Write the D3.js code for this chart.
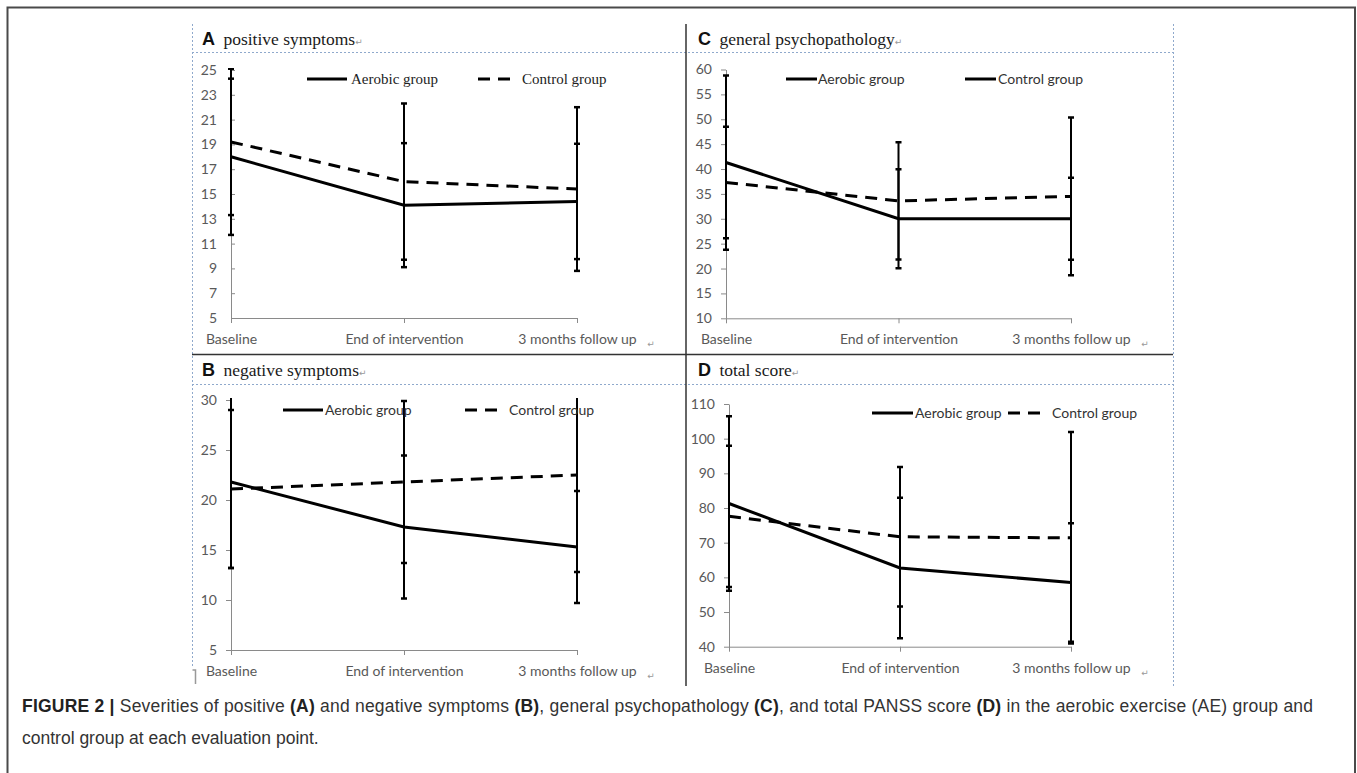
<!DOCTYPE html>
<html>
<head>
<meta charset="utf-8">
<script src="https://cdn.jsdelivr.net/npm/d3@7"></script>
<style>
    body { margin: 0; background: #fff; }
    svg { display: block; }
</style>
</head>
<body>
<svg id="fig" width="1357" height="773"></svg>
<script>
/**
 * Data.
 */
const timepoints = ['Baseline', 'End of intervention', '3 months follow up'];
const seriesNames = ['Aerobic group', 'Control group'];

// A positive symptoms
const positiveAerobic = [18.0, 14.1, 14.4],
    positiveAerobicSd = [6.3, 5.0, 4.65],
    positiveControl = [19.2, 16.0, 15.4],
    positiveControlSd = [5.9, 6.3, 6.6],
    positiveTicks = [5, 7, 9, 11, 13, 15, 17, 19, 21, 23, 25];

// B negative symptoms
const negativeAerobic = [21.8, 17.3, 15.3],
    negativeAerobicSd = [8.6, 7.15, 5.6],
    negativeControl = [21.1, 21.8, 22.5],
    negativeControlSd = [7.9, 8.1, 9.7],
    negativeTicks = [5, 10, 15, 20, 25, 30];

// C general psychopathology
const generalAerobic = [41.3, 30.0, 30.0],
    generalAerobicSd = [17.5, 9.95, 8.25],
    generalControl = [37.3, 33.6, 34.5],
    generalControlSd = [11.2, 11.8, 15.85],
    generalTicks = [10, 15, 20, 25, 30, 35, 40, 45, 50, 55, 60];

// D total score
const totalAerobic = [81.3, 62.7, 58.5],
    totalAerobicSd = [25.15, 20.25, 17.1],
    totalControl = [77.6, 71.7, 71.4],
    totalControlSd = [20.35, 20.1, 30.5],
    totalTicks = [40, 50, 60, 70, 80, 90, 100, 110];

/**
 * Visual configs.
 */
const sans = 'Lato, "Liberation Sans", sans-serif',
    serif = '"Liberation Serif", "DejaVu Serif", serif',
    arial = '"Liberation Sans", Arial, sans-serif',
    axisColor = '#8a8a8a',
    labelColor = '#595959',
    guideColor = '#8fa9cc',
    dash = '12,8';

const panels = [
    {
        letter: 'A', title: 'positive symptoms', titleX: 202, titleY: 45,
        aerobic: positiveAerobic, aerobicSd: positiveAerobicSd,
        control: positiveControl, controlSd: positiveControlSd,
        ticks: positiveTicks, x0: 231, x1: 577, yTop: 70, yBottom: 318, innerTicks: true,
        legend: { y: 79, font: serif, size: 15, color: '#222', items: [
            { x0: 307, x1: 347, tx: 351, dashed: false },
            { x0: 478, x1: 515, tx: 522, dashed: true }
        ] }
    },
    {
        letter: 'B', title: 'negative symptoms', titleX: 202, titleY: 376,
        aerobic: negativeAerobic, aerobicSd: negativeAerobicSd,
        control: negativeControl, controlSd: negativeControlSd,
        ticks: negativeTicks, x0: 231, x1: 577, yTop: 400, yBottom: 650,
        legend: { y: 410, font: sans, size: 14, color: '#333', items: [
            { x0: 283, x1: 323, tx: 325, dashed: false },
            { x0: 465, x1: 502, tx: 509, dashed: true }
        ] }
    },
    {
        letter: 'C', title: 'general psychopathology', titleX: 698, titleY: 45,
        aerobic: generalAerobic, aerobicSd: generalAerobicSd,
        control: generalControl, controlSd: generalControlSd,
        ticks: generalTicks, x0: 726, x1: 1071, yTop: 69.5, yBottom: 318.3,
        legend: { y: 79, font: sans, size: 14, color: '#333', items: [
            { x0: 786, x1: 817, tx: 818, dashed: false },
            { x0: 965, x1: 996, tx: 998, dashed: false }
        ] }
    },
    {
        letter: 'D', title: 'total score', titleX: 698, titleY: 376,
        aerobic: totalAerobic, aerobicSd: totalAerobicSd,
        control: totalControl, controlSd: totalControlSd,
        ticks: totalTicks, x0: 729, x1: 1071, yTop: 404, yBottom: 646.7,
        legend: { y: 413, font: sans, size: 14, color: '#333', items: [
            { x0: 872, x1: 913, tx: 915, dashed: false },
            { x0: 1008, x1: 1047, tx: 1052, dashed: true }
        ] }
    }
];

const svg = d3.select('#fig');

/**
 * Page frame and the table-like guides around the panels.
 */
svg.append('path')
    .attr('d', 'M7.5,773V7.5H1355V773')
    .attr('fill', 'none').attr('stroke', '#4a4a4a').attr('stroke-width', 2);

const guides = svg.append('g').attr('class', 'guides')
    .attr('stroke', guideColor).attr('stroke-width', 1).attr('stroke-dasharray', '2,2').attr('fill', 'none');
guides.append('line').attr('x1', 192.5).attr('x2', 192.5).attr('y1', 24).attr('y2', 668);
guides.append('line').attr('x1', 1173.5).attr('x2', 1173.5).attr('y1', 24).attr('y2', 686);
guides.append('line').attr('x1', 192).attr('x2', 1173).attr('y1', 52.5).attr('y2', 52.5);
guides.append('line').attr('x1', 192).attr('x2', 1173).attr('y1', 384.5).attr('y2', 384.5);

const rules = svg.append('g').attr('class', 'rules').attr('stroke', '#333').attr('stroke-width', 1.5);
rules.append('line').attr('x1', 686).attr('x2', 686).attr('y1', 24).attr('y2', 686);
rules.append('line').attr('x1', 192).attr('x2', 1173).attr('y1', 354.5).attr('y2', 354.5);
svg.append('path').attr('d', 'M192.5,670h3v14').attr('fill', 'none').attr('stroke', '#999').attr('stroke-width', 1.5);

/**
 * Draws one panel.
 */
function drawPanel(p) {
    const g = svg.append('g').attr('class', 'panel panel-' + p.letter);

    const x = d3.scalePoint().domain(timepoints).range([p.x0, p.x1]).padding(0);
    const y = d3.scaleLinear().domain(d3.extent(p.ticks)).range([p.yBottom, p.yTop]);

    // Header
    const head = g.append('text').attr('x', p.titleX).attr('y', p.titleY);
    head.append('tspan').text(p.letter)
        .attr('font-family', arial).attr('font-weight', 'bold').attr('font-size', 18).attr('fill', '#111');
    head.append('tspan').text(' ' + p.title).attr('dx', 4)
        .attr('font-family', serif).attr('font-size', 17.5).attr('fill', '#1a1a1a');
    head.append('tspan').text('↵')
        .attr('font-family', '"DejaVu Sans"').attr('font-size', 9).attr('fill', '#999');

    // Axes
    const yAxis = d3.axisLeft(y).tickValues(p.ticks).tickSizeOuter(0)
        .tickSizeInner(p.innerTicks ? -4 : 5).tickPadding(p.innerTicks ? 14 : 9);
    const yg = g.append('g').attr('transform', 'translate(' + p.x0 + ',0)').call(yAxis);

    const xAxis = d3.axisBottom(x).tickSizeOuter(0).tickSizeInner(5);
    const xg = g.append('g').attr('transform', 'translate(0,' + p.yBottom + ')').call(xAxis);

    [yg, xg].forEach(a => {
        a.select('.domain').attr('stroke', axisColor);
        a.selectAll('.tick line').attr('stroke', axisColor);
        a.selectAll('.tick text')
            .attr('font-family', sans).attr('font-size', 14).attr('fill', labelColor);
    });
    xg.selectAll('.tick text').attr('y', 26).attr('dy', 0);
    xg.append('text').text('↵')
        .attr('x', p.x1 + 74).attr('y', 29)
        .attr('font-family', '"DejaVu Sans"').attr('font-size', 9).attr('fill', '#999');

    // Error bars, clipped to the plot area
    const clipId = 'clip-' + p.letter;
    g.append('clipPath').attr('id', clipId).append('rect')
        .attr('x', p.x0 - 10).attr('y', p.yTop - 2)
        .attr('width', p.x1 - p.x0 + 20).attr('height', p.yBottom - p.yTop + 2);

    const series = [
        { name: seriesNames[0], values: p.aerobic, sd: p.aerobicSd, dashed: false },
        { name: seriesNames[1], values: p.control, sd: p.controlSd, dashed: true }
    ];

    const bars = g.append('g').attr('class', 'error-bars').attr('clip-path', 'url(#' + clipId + ')')
        .attr('stroke', '#000').attr('stroke-width', 2);
    series.forEach(s => {
        s.values.forEach((v, i) => {
            const cx = x(timepoints[i]),
                lo = y(v - s.sd[i]),
                hi = y(v + s.sd[i]);
            bars.append('line').attr('x1', cx).attr('x2', cx).attr('y1', lo).attr('y2', hi);
            bars.append('line').attr('x1', cx - 3).attr('x2', cx + 3).attr('y1', lo).attr('y2', lo).attr('stroke-width', 2.5);
            bars.append('line').attr('x1', cx - 3).attr('x2', cx + 3).attr('y1', hi).attr('y2', hi).attr('stroke-width', 2.5);
        });
    });

    // Lines
    const line = d3.line().x((d, i) => x(timepoints[i])).y(d => y(d));
    g.selectAll('.series').data(series).enter().append('path')
        .attr('class', 'series')
        .attr('d', s => line(s.values))
        .attr('fill', 'none').attr('stroke', '#000').attr('stroke-width', 3)
        .attr('stroke-dasharray', s => s.dashed ? dash : null);

    // Legend
    const lg = g.append('g').attr('class', 'legend');
    p.legend.items.forEach((it, i) => {
        lg.append('line')
            .attr('x1', it.x0).attr('x2', it.x1).attr('y1', p.legend.y).attr('y2', p.legend.y)
            .attr('stroke', '#000').attr('stroke-width', 3)
            .attr('stroke-dasharray', it.dashed ? dash : null);
        lg.append('text').text(seriesNames[i])
            .attr('x', it.tx).attr('y', p.legend.y).attr('dy', '0.35em')
            .attr('font-family', p.legend.font).attr('font-size', p.legend.size).attr('fill', p.legend.color);
    });
}

panels.forEach(drawPanel);

/**
 * Caption.
 */
const captionParts = [
    ['FIGURE 2 | ', true], ['Severities of positive ', false], ['(A)', true],
    [' and negative symptoms ', false], ['(B)', true], [', general psychopathology ', false],
    ['(C)', true], [', and total PANSS score ', false], ['(D)', true],
    [' in the aerobic exercise (AE) group and', false]
];
const caption = svg.append('g').attr('class', 'caption')
    .attr('font-family', arial).attr('font-size', 17.5).attr('fill', '#333');
const line1 = caption.append('text').attr('x', 22).attr('y', 712)
    .attr('textLength', 1291).attr('lengthAdjust', 'spacing');
captionParts.forEach(([t, bold]) => {
    line1.append('tspan').text(t).attr('font-weight', bold ? 'bold' : null).attr('fill', bold ? '#222' : null);
});
caption.append('text').attr('x', 22).attr('y', 744).text('control group at each evaluation point.');
</script>
</body>
</html>
